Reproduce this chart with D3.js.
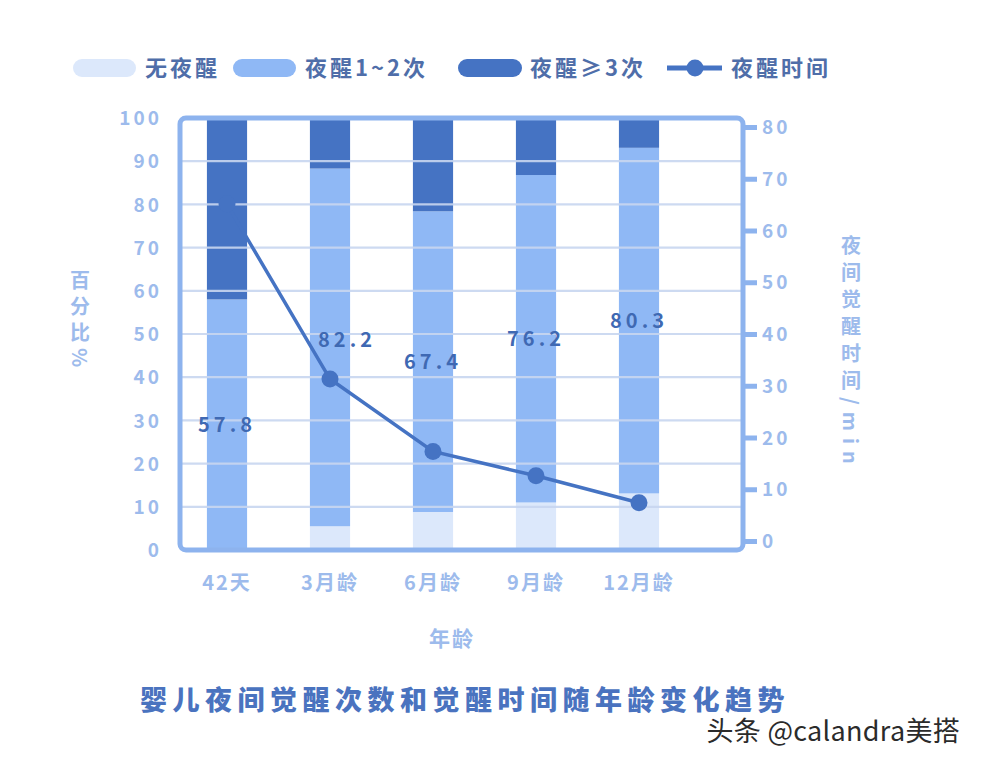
<!DOCTYPE html>
<html><head><meta charset="utf-8">
<script src="https://cdn.jsdelivr.net/npm/d3@7/dist/d3.min.js"></script>
<style>
html,body{margin:0;padding:0;background:#fff;}
svg{display:block;font-family:"Noto Sans CJK SC","Noto Sans",sans-serif;}
</style></head>
<body><svg id="c" width="982" height="764"></svg>
<script>
const categories = ["42天", "3月龄", "6月龄", "9月龄", "12月龄"];
const noWake = [0, 5.5, 8.8, 11.0, 13.1];
const wake12 = [58.0, 82.8, 69.6, 75.8, 80.0];
const wake3 = [42.0, 11.7, 21.6, 13.2, 6.9];
const wakeLabels = ["57.8", "82.2", "67.4", "76.2", "80.3"];
const wakeMinutes = [65.1, 31.3, 17.3, 12.6, 7.4];
const leftTicks = [0, 10, 20, 30, 40, 50, 60, 70, 80, 90, 100];
const rightTicks = [0, 10, 20, 30, 40, 50, 60, 70, 80];
const seriesNames = ["无夜醒", "夜醒1~2次", "夜醒≥3次", "夜醒时间"];

const C = {light:"#dce8fb", mid:"#8fb8f5", dark:"#4573c3", line:"#4573c3",
  frame:"#8db3ee", grid:"#c8d6f0", tick:"#9dbbec", label:"#3f69b3", legend:"#4f6ea9", title:"#4a73bf"};

const svg = d3.select("#c");
const x = d3.scaleBand().domain(categories).range([175.5, 690.5]).paddingInner(0.61).paddingOuter(0.305);
const y = d3.scaleLinear().domain([0, 100]).range([550, 118]);
const y2 = d3.scaleLinear().domain([0, 80]).range([541, 127]);

const rows = categories.map((c, i) => ({cat: c, noWake: noWake[i], wake12: wake12[i], wake3: wake3[i]}));
const stack = d3.stack().keys(["noWake", "wake12", "wake3"])(rows);
const colors = [C.light, C.mid, C.dark];

// bars
const gBars = svg.append("g");
stack.forEach((layer, li) => {
  gBars.selectAll(null).data(layer).join("rect")
    .attr("x", d => x(d.data.cat))
    .attr("width", x.bandwidth())
    .attr("y", d => y(d[1]))
    .attr("height", d => y(d[0]) - y(d[1]))
    .attr("fill", colors[li]);
});

// gridlines (over bars)
svg.append("g").selectAll("line").data(leftTicks.filter(t => t > 0 && t < 100)).join("line")
  .attr("x1", 180).attr("x2", 743)
  .attr("y1", d => y(d)).attr("y2", d => y(d))
  .attr("stroke", C.grid).attr("stroke-width", 2.2).attr("opacity", 0.9);

// frame
svg.append("rect").attr("x", 180).attr("y", y(100)).attr("width", 563).attr("height", y(0) - y(100))
  .attr("rx", 6).attr("fill", "none").attr("stroke", C.frame).attr("stroke-width", 5);

// left axis
const gl = svg.append("g").attr("transform", "translate(162,0)")
  .call(d3.axisLeft(y).tickValues(leftTicks).tickSize(0).tickPadding(0));
gl.select(".domain").remove();
gl.selectAll("text").attr("fill", C.tick).attr("font-size", 19).attr("font-weight", 700)
  .attr("letter-spacing", 3).attr("dy", "0.35em").attr("font-family", "'Noto Sans CJK SC',sans-serif");

// right axis
const gr = svg.append("g").attr("transform", "translate(743,0)")
  .call(d3.axisRight(y2).tickValues(rightTicks).tickSize(14).tickPadding(5));
gr.select(".domain").remove();
gr.selectAll("line").attr("stroke", C.frame).attr("stroke-width", 5);
gr.selectAll("text").attr("fill", C.tick).attr("font-size", 19).attr("font-weight", 700)
  .attr("letter-spacing", 3).attr("dy", "0.35em").attr("font-family", "'Noto Sans CJK SC',sans-serif");

// x labels
svg.append("g").selectAll("text").data(categories).join("text")
  .attr("x", d => x(d) + x.bandwidth() / 2).attr("y", 590)
  .attr("text-anchor", "middle").attr("fill", C.tick).attr("font-size", 20).attr("font-weight", 700)
  .attr("letter-spacing", 2).text(d => d);

// line
const line = d3.line().x((d, i) => x(categories[i]) + x.bandwidth() / 2).y(d => y2(d));
svg.append("path").datum(wakeMinutes).attr("d", line).attr("fill", "none")
  .attr("stroke", C.line).attr("stroke-width", 3.5);
svg.append("g").selectAll("circle").data(wakeMinutes).join("circle")
  .attr("cx", (d, i) => x(categories[i]) + x.bandwidth() / 2).attr("cy", d => y2(d))
  .attr("r", 8.5).attr("fill", C.line);

// data labels: middle of 夜醒1~2次 segment
svg.append("g").selectAll("text").data(wakeLabels).join("text")
  .attr("x", (d, i) => x(categories[i]) + x.bandwidth() / 2 + (i === 1 ? 17 : 0))
  .attr("y", (d, i) => y(noWake[i] + wake12[i] / 2) + (i === 1 ? -7 : 0))
  .attr("dy", "0.35em").attr("text-anchor", "middle")
  .attr("fill", C.label).attr("font-size", 20).attr("font-weight", 700).attr("letter-spacing", 4)
  .text(d => d);

// axis titles (vertical)
svg.append("text").attr("x", 80).attr("y", 270).attr("writing-mode", "vertical-rl")
  .attr("fill", C.tick).attr("font-size", 20).attr("font-weight", 700).attr("letter-spacing", 6).text("百分比%");
svg.append("text").attr("x", 851).attr("y", 235).attr("writing-mode", "vertical-rl")
  .attr("fill", C.tick).attr("font-size", 20).attr("font-weight", 700).attr("letter-spacing", 7).text("夜间觉醒时间/min");
svg.append("text").attr("x", 452).attr("y", 646).attr("text-anchor", "middle")
  .attr("fill", C.tick).attr("font-size", 21).attr("font-weight", 700).attr("letter-spacing", 2).text("年龄");

// title
svg.append("text").attr("x", 465).attr("y", 710).attr("text-anchor", "middle")
  .attr("fill", C.title).attr("font-size", 27).attr("font-weight", 900).attr("letter-spacing", 5.5)
  .text("婴儿夜间觉醒次数和觉醒时间随年龄变化趋势");

// watermark
svg.append("text").attr("x", 960).attr("y", 741).attr("text-anchor", "end")
  .attr("fill", "#2b2b2b").attr("font-size", 27).attr("font-weight", 400).attr("letter-spacing", 0.3)
  .text("头条 @calandra美搭");

// legend
const legendX = [73, 233, 458, 667];
const gLeg = svg.append("g");
seriesNames.forEach((name, i) => {
  const lx = legendX[i];
  if (i < 3) {
    gLeg.append("rect").attr("x", lx).attr("y", 59).attr("width", i === 2 ? 64 : 63).attr("height", 18)
      .attr("rx", 9).attr("fill", colors[i]);
  } else {
    gLeg.append("line").attr("x1", lx).attr("x2", lx + 55).attr("y1", 68).attr("y2", 68)
      .attr("stroke", C.line).attr("stroke-width", 5);
    gLeg.append("circle").attr("cx", lx + 28).attr("cy", 68).attr("r", 8.5).attr("fill", C.line);
  }
  gLeg.append("text").attr("x", lx + (i === 3 ? 64 : 72)).attr("y", 68).attr("dy", "0.35em")
    .attr("fill", C.legend).attr("font-size", 22).attr("font-weight", 700).attr("letter-spacing", 3)
    .text(name);
});
</script></body></html>
